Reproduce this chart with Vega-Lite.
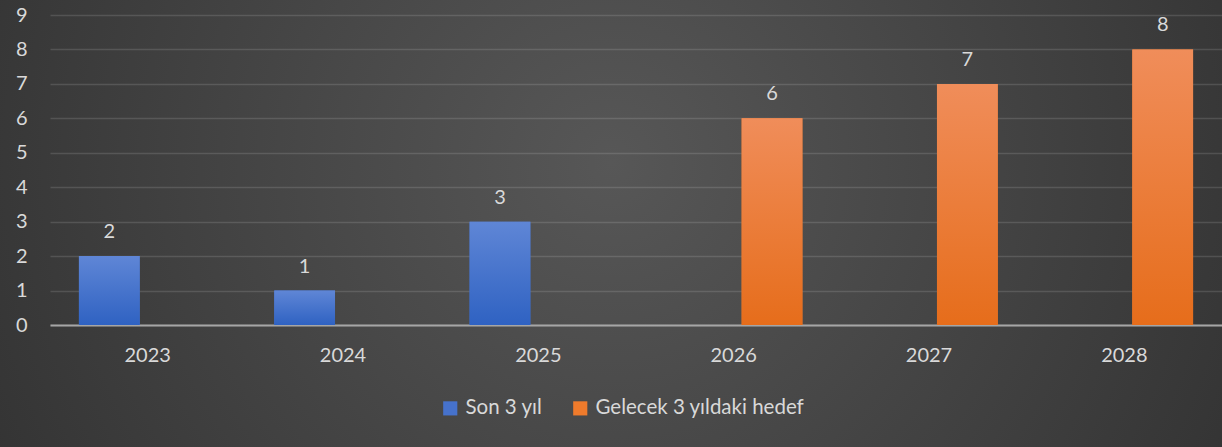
{
  "$schema": "https://vega.github.io/schema/vega-lite/v6.json",
  "width": 1222,
  "height": 447,
  "autosize": {"type": "none"},
  "padding": 0,
  "background": "#2b2b2b",
  "config": {
    "font": "Lato",
    "view": {
      "stroke": null,
      "fill": {"gradient": "radial", "x1": 0.5, "y1": 0.45, "x2": 0.5, "y2": 0.45, "r1": 0, "r2": 0.72,
        "stops": [{"offset": 0, "color": "#575757"}, {"offset": 1, "color": "#2a2a2a"}]}
    },
    "axis": {"labelColor": "#d9d9d9", "labelFontSize": 20, "titleColor": "#d9d9d9"}
  },
  "data": {
    "values": [
      {"year": "2023", "series": "Son 3 yıl", "value": 2},
      {"year": "2024", "series": "Son 3 yıl", "value": 1},
      {"year": "2025", "series": "Son 3 yıl", "value": 3},
      {"year": "2026", "series": "Gelecek 3 yıldaki hedef", "value": 6},
      {"year": "2027", "series": "Gelecek 3 yıldaki hedef", "value": 7},
      {"year": "2028", "series": "Gelecek 3 yıldaki hedef", "value": 8}
    ]
  },
  "encoding": {
    "x": {
      "field": "year", "type": "nominal",
      "scale": {"paddingInner": 0, "paddingOuter": 0, "range": [50, 1222]},
      "axis": {"title": null, "labelAngle": 0, "ticks": false, "domainColor": "#a6a6a6", "domainWidth": 2, "labelPadding": 20, "offset": -122}
    },
    "xOffset": {
      "field": "series", "type": "nominal",
      "scale": {"domain": ["Son 3 yıl", "Gelecek 3 yıldaki hedef"], "paddingInner": 0.208, "paddingOuter": 0.377}
    },
    "y": {
      "field": "value", "type": "quantitative",
      "scale": {"domain": [0, 9], "range": [325, 15]},
      "axis": {"title": null, "values": [0,1,2,3,4,5,6,7,8,9], "labelOverlap": false, "ticks": false, "domain": false, "offset": -49, "gridColor": "#ffffff", "gridOpacity": 0.13, "gridWidth": 1.5, "labelPadding": 22}
    }
  },
  "layer": [
    {
      "mark": {"type": "bar"},
      "encoding": {
        "color": {
          "field": "series", "type": "nominal",
          "scale": {"domain": ["Son 3 yıl", "Gelecek 3 yıldaki hedef"], "range": ["#4672cc", "#ef7b2c"]},
          "legend": {
            "title": null, "orient": "none", "direction": "horizontal",
            "legendX": 440, "legendY": 398,
            "symbolType": "square", "symbolSize": 200, "symbolStrokeWidth": 0, "symbolOpacity": 1,
            "labelFontSize": 20.5, "labelColor": "#d9d9d9", "labelLimit": 400, "columnPadding": 27, "labelOffset": 5
          }
        }
      }
    },
    {
      "transform": [{"filter": "datum.series === 'Son 3 yıl'"}],
      "mark": {"type": "bar", "color": {"gradient": "linear", "x1": 0, "y1": 0, "x2": 0, "y2": 1, "stops": [{"offset": 0, "color": "#5f86d6"}, {"offset": 1, "color": "#2f62c2"}]}},
      "encoding": {}
    },
    {
      "transform": [{"filter": "datum.series !== 'Son 3 yıl'"}],
      "mark": {"type": "bar", "color": {"gradient": "linear", "x1": 0, "y1": 0, "x2": 0, "y2": 1, "stops": [{"offset": 0, "color": "#f08d5a"}, {"offset": 1, "color": "#e66d1b"}]}},
      "encoding": {}
    },
    {
      "mark": {"type": "text", "dy": -14, "baseline": "bottom", "fontSize": 20, "color": "#d9d9d9"},
      "encoding": {"text": {"field": "value", "type": "quantitative"}}
    }
  ]
}
